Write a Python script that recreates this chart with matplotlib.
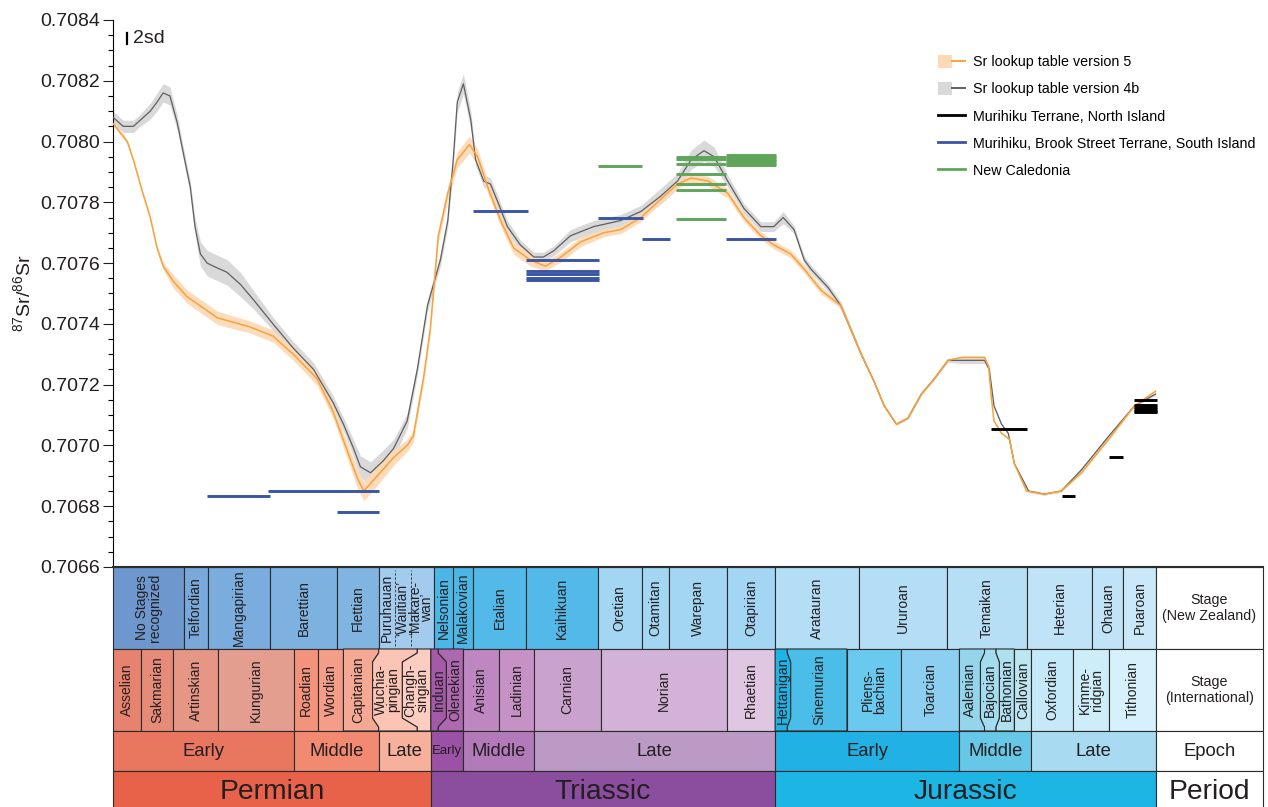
import matplotlib.pyplot as plt
import matplotlib.transforms as mtransforms
from matplotlib.lines import Line2D
from matplotlib.patches import Patch
from matplotlib.legend_handler import HandlerTuple
from matplotlib.ticker import MultipleLocator, FormatStrFormatter

plt.rcParams['font.family'] = ['Liberation Sans', 'DejaVu Sans']

# ---- Sr lookup table version 5 (age in Ma, 87Sr/86Sr, half band width x1e-6)
V5_AGE = [298.9, 296.8, 295.9, 294.5, 293.4, 292.4, 291.5, 290.0, 288.0, 283.5,
          278.7, 275.3, 272.3, 268.8, 266.4, 264.3, 262.8, 261.9, 259.9, 257.5,
          255.5, 254.6, 253.1, 252.1, 250.9, 249.5, 248.1, 246.3, 245.1, 243.6,
          241.7, 239.8, 237.3, 235.1, 232.8, 229.9, 226.5, 224.0, 221.0, 218.1,
          215.6, 213.6, 211.1, 208.2, 205.8, 203.3, 201.4, 198.9, 196.9, 194.4,
          191.5, 188.5, 186.6, 185.1, 183.3, 181.6, 179.6, 177.7, 175.7, 173.7,
          170.3, 169.7, 169.3, 168.9, 167.8, 166.6, 165.9, 164.1, 161.5, 159.0,
          156.0, 152.0, 148.2, 145.0]
V5_SR = [0.70806, 0.70800, 0.70794, 0.70783, 0.70775, 0.70765, 0.70759, 0.70754, 0.70749, 0.70742,
         0.70739, 0.70736, 0.70730, 0.70722, 0.70711, 0.70698, 0.70689, 0.70685, 0.70690, 0.70696,
         0.70700, 0.70703, 0.70722, 0.70738, 0.70769, 0.70783, 0.70794, 0.70799, 0.70795, 0.70785,
         0.70774, 0.70765, 0.70761, 0.70759, 0.70762, 0.70767, 0.70770, 0.70771, 0.70775, 0.70781,
         0.70786, 0.70788, 0.70787, 0.70783, 0.70775, 0.70769, 0.70766, 0.70763, 0.70758, 0.70751,
         0.70746, 0.70730, 0.70721, 0.70713, 0.70707, 0.70709, 0.70717, 0.70722, 0.70728, 0.70729,
         0.70729, 0.70726, 0.70716, 0.70708, 0.70704, 0.70702, 0.70694, 0.70685, 0.70684, 0.70685,
         0.70691, 0.70702, 0.70713, 0.70718]
V5_ERR = [7, 7, 7, 7, 7, 8, 12, 22, 22, 22,
          20, 20, 20, 22, 22, 26, 32, 32, 32, 26,
          20, 20, 18, 18, 20, 22, 26, 28, 26, 20,
          20, 20, 20, 16, 16, 16, 13, 13, 13, 13,
          13, 16, 16, 16, 13, 13, 13, 13, 13, 13,
          8, 5, 3, 3, 3, 3, 3, 3, 3, 3,
          3, 3, 3, 3, 3, 3, 3, 3, 3, 3,
          3, 3, 3, 3]

# ---- Sr lookup table version 4b
V4B_AGE = [298.9, 297.4, 295.9, 294.9, 293.4, 292.4, 291.5, 290.5, 289.4, 288.6,
           287.5, 286.8, 286.0, 285.0, 284.1, 282.1, 280.1, 278.2, 275.3, 272.3,
           269.3, 266.4, 264.9, 263.4, 262.4, 260.9, 259.0, 257.5, 255.5, 254.0,
           252.5, 250.6, 249.5, 248.7, 248.1, 247.2, 246.1, 245.4, 244.2, 243.2,
           242.1, 240.7, 238.8, 236.8, 235.4, 233.9, 231.4, 228.0, 224.0, 221.0,
           218.1, 215.6, 213.6, 211.7, 210.2, 208.2, 205.8, 203.3, 201.4, 200.0,
           198.4, 196.9, 195.9, 193.4, 191.5, 188.5, 186.6, 185.1, 183.3, 181.6,
           179.6, 177.7, 175.7, 173.7, 170.3, 169.6, 168.9, 167.8, 166.8, 165.9,
           163.8, 161.5, 159.0, 156.0, 152.0, 148.2, 145.0]
V4B_SR = [0.70808, 0.70805, 0.70805, 0.70807, 0.70810, 0.70813, 0.70816, 0.70815, 0.70806, 0.70797,
          0.70785, 0.70772, 0.70763, 0.70760, 0.70759, 0.70757, 0.70753, 0.70748, 0.70740, 0.70732,
          0.70725, 0.70714, 0.70707, 0.70699, 0.70693, 0.70691, 0.70695, 0.70699, 0.70708, 0.70725,
          0.70746, 0.70761, 0.70774, 0.70794, 0.70813, 0.70819, 0.70807, 0.70794, 0.70787, 0.70786,
          0.70780, 0.70772, 0.70766, 0.70762, 0.70762, 0.70764, 0.70769, 0.70772, 0.70774, 0.70777,
          0.70782, 0.70787, 0.70794, 0.70797, 0.70795, 0.70787, 0.70778, 0.70772, 0.70772, 0.70775,
          0.70771, 0.70761, 0.70758, 0.70752, 0.70746, 0.70730, 0.70721, 0.70713, 0.70707, 0.70709,
          0.70717, 0.70722, 0.70728, 0.70728, 0.70728, 0.70725, 0.70713, 0.70707, 0.70704, 0.70694,
          0.70685, 0.70684, 0.70685, 0.70692, 0.70703, 0.70713, 0.70717]
V4B_ERR = [20, 20, 20, 20, 26, 30, 30, 30, 24, 20,
           20, 30, 40, 42, 42, 42, 40, 30, 22, 22,
           22, 22, 22, 28, 36, 36, 36, 30, 25, 20,
           20, 20, 22, 28, 33, 33, 30, 20, 20, 20,
           20, 20, 16, 16, 16, 16, 20, 20, 20, 20,
           26, 26, 32, 35, 32, 20, 16, 16, 16, 20,
           13, 13, 13, 13, 13, 8, 4, 4, 4, 4,
           4, 4, 6, 10, 10, 8, 4, 4, 4, 4,
           4, 4, 4, 4, 4, 4, 4]

# ---- sample ranges (start age, end age, 87Sr/86Sr)
NORTH_START = [169.4, 158.8, 152.0, 148.2, 148.2, 148.2, 148.2, 148.2, 148.2]
NORTH_END = [164.1, 157.0, 149.8, 144.9, 144.9, 144.9, 144.9, 144.9, 144.9]
NORTH_SR = [0.707054, 0.706834, 0.706962, 0.707150, 0.707133, 0.707127, 0.707120, 0.707113, 0.707110]

SOUTH_START = [285.0, 276.0, 265.9, 245.8, 237.9, 237.9, 237.9, 237.9, 237.9, 227.4, 220.9, 208.5]
SOUTH_END = [275.7, 259.6, 259.6, 237.7, 227.2, 227.2, 227.2, 227.2, 227.2, 220.7, 216.7, 201.1]
SOUTH_SR = [0.706834, 0.706850, 0.706780, 0.707770, 0.707610, 0.707573, 0.707564, 0.707552, 0.707546,
            0.707750, 0.707680, 0.707680]

NC_START = [227.4, 215.9, 215.9, 215.9, 215.9, 215.9, 215.9, 215.9,
            208.5, 208.5, 208.5, 208.5, 208.5, 208.5]
NC_END = [220.9, 208.5, 208.5, 208.5, 208.5, 208.5, 208.5, 208.5,
          201.1, 201.1, 201.1, 201.1, 201.1, 201.1]
NC_SR = [0.707920, 0.707950, 0.707943, 0.707926, 0.707893, 0.707860, 0.707841, 0.707745,
         0.707956, 0.707950, 0.707943, 0.707936, 0.707930, 0.707923]

LEGEND_LABELS = ["Sr lookup table version 5", "Sr lookup table version 4b",
                 "Murihiku Terrane, North Island",
                 "Murihiku, Brook Street Terrane, South Island", "New Caledonia"]

# ---- time scale
NZ_STAGES = ["No Stages\nrecognized", "Telfordian", "Mangapirian", "Barettian", "Flettian",
             "Puruhauan", "Nelsonian", "Malakovian", "Etalian", "Kaihikuan",
             "Oretian", "Otamitan", "Warepan", "Otapirian", "Aratauran",
             "Ururoan", "Temaikan", "Heterian", "Ohauan", "Puaroan"]
NZ_BOUNDS = [298.9, 288.4, 284.9, 275.8, 265.8, 259.7, 251.5, 248.8, 245.8, 237.9, 227.4,
             220.9, 216.9, 208.3, 201.2, 188.8, 175.8, 164.1, 154.4, 149.8, 145.0]
NZ_COLORS = ['#6d97cd', '#79a9da', '#7aaddd', '#7db1df', '#80b5e2',
             '#a2cbee', '#4ab7e6', '#4ab7e6', '#52b9e8', '#52b9e8',
             '#a3d6f3', '#a3d6f3', '#a3d6f3', '#a3d6f3', '#b3def5',
             '#b3def5', '#b6dff5', '#c0e3f7', '#c0e3f7', '#cbe8f8']
PURUHAUAN_PARTS = ["Puruhauan", "\u2018Waiitian\u2019", "\u2018Makare-\nwan\u2019"]

INTL_STAGES = ["Asselian", "Sakmarian", "Artinskian", "Kungurian", "Roadian", "Wordian",
               "Capitanian", "Wuchia-\npingian", "Changh-\nsingian", "Induan", "Olenekian",
               "Anisian", "Ladinian", "Carnian", "Norian", "Rhaetian", "Hettanigan",
               "Sinemurian", "Pliens-\nbachian", "Toarcian", "Aalenian", "Bajocian",
               "Bathonian", "Callovian", "Oxfordian", "Kimme-\nridgian", "Tithonian"]
INTL_EDGE = [298.9, 294.8, 290.0, 283.4, 272.2, 268.6, 264.9, 259.7, 254.0, 252.0, 250.9,
             247.2, 241.9, 236.8, 226.9, 208.3, 201.2, 199.4, 190.6, 182.6, 174.0, 170.3,
             168.6, 165.9, 163.4, 157.2, 152.0, 145.0]
INTL_MID = [298.9, 294.8, 290.0, 283.4, 272.2, 268.6, 264.9, 260.6, 256.2, 252.0, 249.7,
            247.2, 241.9, 236.8, 226.9, 208.3, 201.2, 198.9, 190.6, 182.6, 174.0, 170.9,
            168.1, 165.9, 163.4, 157.2, 152.0, 145.0]
INTL_COLORS = ['#e6826e', '#e68b78', '#e59684', '#e39e8f', '#f4937c', '#f49d88', '#f5a994',
               '#fbc4b4', '#fccdc0', '#a45aa8', '#ad68b0', '#bf87c2', '#c692c6', '#c9a2cd',
               '#d2b2d7', '#dfc6e1', '#1fb4e6', '#4abde9', '#6ac9ee', '#8ccff0', '#94d5ec',
               '#a3dbef', '#aee0f0', '#bde6f2', '#c5e9f8', '#cdeef9', '#d6f1fb']

EPOCHS = ["Early", "Middle", "Late", "Early", "Middle", "Late", "Early", "Middle", "Late"]
EPOCH_BOUNDS = [298.9, 272.2, 259.7, 252.0, 247.2, 236.8, 201.2, 174.0, 163.4, 145.0]
EPOCH_COLORS = ['#e9775f', '#f28a72', '#f7b09c', '#9b51a4', '#b37ab9', '#bb9bc6',
                '#22b1e5', '#66c7e6', '#a8dbf2']

PERIODS = ["Permian", "Triassic", "Jurassic"]
PERIOD_BOUNDS = [298.9, 252.0, 201.2, 145.0]
PERIOD_COLORS = ['#e8624a', '#8b4d9e', '#1db6e4']

ROW_TITLES = ["Stage\n(New Zealand)", "Stage\n(International)", "Epoch", "Period"]

W, H = 1268, 807
TEXT = '#231f20'
EDGE = '#2b2b2b'
V5_LINE, V5_BAND = '#f7a23c', '#fdd9b5'
V4B_LINE, V4B_BAND = '#5f5f5f', '#d9d9d9'
NORTH_COLOR, SOUTH_COLOR, NC_COLOR = '#000000', '#3a55a4', '#5fa55a'
TWO_SD = 0.000036
STAGE_FS = 10

# table rows, in pixels from the figure bottom
ROWS = {'nz': (158, 240), 'intl': (76, 158), 'epoch': (36, 76), 'period': (-3, 36)}


def px_rect(x0, y0, x1, y1):
    return [x0 / W, 1 - y1 / H, (x1 - x0) / W, (y1 - y0) / H]


def boundary(edge, mid, y0, y1):
    # stage boundary from top to bottom, with a bracket where a stage is widened
    return [(edge, y1), (edge, y1 - 4), (mid, y1 - 13), (mid, y0 + 13), (edge, y0 + 4), (edge, y0)]


def cell(axis, left, right, y0, y1, color):
    axis.fill([left, right, right, left], [y0, y0, y1, y1], facecolor=color,
              edgecolor=EDGE, lw=0.8, clip_on=False)


def vlabel(axis, x, y, s, fs=STAGE_FS, ls=0.85):
    axis.text(x, y, s, rotation=90, ha='center', va='center', fontsize=fs,
              color=TEXT, linespacing=ls)


fig = plt.figure(figsize=(W / 100, H / 100), dpi=100)

# ---- main Sr curve panel
ax = fig.add_axes(px_rect(113, 20, 1156, 567))
ax.set_xlim(298.9, 145.0)
ax.set_ylim(0.7066, 0.7084)

lo = [s - e * 1e-6 for s, e in zip(V4B_SR, V4B_ERR)]
hi = [s + e * 1e-6 for s, e in zip(V4B_SR, V4B_ERR)]
ax.fill_between(V4B_AGE, lo, hi, color=V4B_BAND, lw=0, zorder=1)
lo = [s - e * 1e-6 for s, e in zip(V5_SR, V5_ERR)]
hi = [s + e * 1e-6 for s, e in zip(V5_SR, V5_ERR)]
ax.fill_between(V5_AGE, lo, hi, color=V5_BAND, alpha=0.9, lw=0, zorder=2)
ax.plot(V4B_AGE, V4B_SR, color=V4B_LINE, lw=0.9, zorder=3)
ax.plot(V5_AGE, V5_SR, color=V5_LINE, lw=1.1, zorder=4)

for starts, ends, vals, col in [(SOUTH_START, SOUTH_END, SOUTH_SR, SOUTH_COLOR),
                                (NC_START, NC_END, NC_SR, NC_COLOR),
                                (NORTH_START, NORTH_END, NORTH_SR, NORTH_COLOR)]:
    lc = ax.hlines(vals, starts, ends, colors=col, lw=2.1, zorder=5)
    lc.set_clip_on(False)

for side in ['top', 'right', 'bottom']:
    ax.spines[side].set_visible(False)
ax.spines['left'].set_linewidth(0.8)
ax.xaxis.set_visible(False)
ax.yaxis.set_major_locator(MultipleLocator(0.0002))
ax.yaxis.set_minor_locator(MultipleLocator(0.00005))
ax.yaxis.set_major_formatter(FormatStrFormatter('%.4f'))
ax.tick_params(axis='y', which='major', length=7.2, width=0.8, labelsize=14, pad=2, colors=TEXT)
ax.tick_params(axis='y', which='minor', length=3.6, width=0.8)
ax.set_ylabel(r'$\mathregular{^{87}}$Sr/$\mathregular{^{86}}$Sr', fontsize=14, color=TEXT)
ax.yaxis.set_label_coords(-0.076, 0.5)

# 2sd scale bar
trans = mtransforms.blended_transform_factory(ax.transAxes, ax.transData)
ax.plot([0.0134, 0.0134], [0.70834 - TWO_SD / 2, 0.70834 + TWO_SD / 2], transform=trans,
        color='k', lw=1.6)
ax.text(0.0192, 0.70834, "2sd", transform=trans, fontsize=14, va='center', color=TEXT)

handles = [
    (Patch(facecolor=V5_BAND, edgecolor='none'), Line2D([], [], color=V5_LINE, lw=1.4)),
    (Patch(facecolor=V4B_BAND, edgecolor='none'), Line2D([], [], color=V4B_LINE, lw=1.4)),
    Line2D([], [], color=NORTH_COLOR, lw=2),
    Line2D([], [], color=SOUTH_COLOR, lw=2),
    Line2D([], [], color=NC_COLOR, lw=2),
]
fig.legend(handles, LEGEND_LABELS, loc='upper left', bbox_to_anchor=(938 / W, 1 - 55 / H),
           frameon=False, fontsize=10.3, handlelength=1.9, handleheight=1.0,
           handletextpad=0.56, labelspacing=0.9, borderpad=0, borderaxespad=0,
           handler_map={tuple: HandlerTuple(ndivide=None, pad=0)})

# ---- time scale table
tax = fig.add_axes(px_rect(113, 567, 1156, 807))
tax.set_xlim(298.9, 145.0)
tax.set_ylim(0, 240)
tax.axis('off')

y0, y1 = ROWS['nz']
for name, l, r, c in zip(NZ_STAGES, NZ_BOUNDS[:-1], NZ_BOUNDS[1:], NZ_COLORS):
    cell(tax, l, r, y0, y1, c)
    if name == "Puruhauan":
        for part, f in zip(PURUHAUAN_PARTS, [0.15, 0.43, 0.76]):
            vlabel(tax, l + (r - l) * f, (y0 + y1) / 2, part, ls=0.75)
        for f in [0.30, 0.59]:
            tax.plot([l + (r - l) * f] * 2, [y0 + 3, y1 - 3], color=EDGE, lw=0.6,
                     ls=(0, (3, 2)))
    else:
        vlabel(tax, (l + r) / 2, (y0 + y1) / 2, name)

y0, y1 = ROWS['intl']
for i, name in enumerate(INTL_STAGES):
    left = boundary(INTL_EDGE[i], INTL_MID[i], y0, y1)
    right = boundary(INTL_EDGE[i + 1], INTL_MID[i + 1], y0, y1)[::-1]
    pts = left + right
    tax.fill([p[0] for p in pts], [p[1] for p in pts], facecolor=INTL_COLORS[i],
             edgecolor=EDGE, lw=0.8, clip_on=False)
    vlabel(tax, (INTL_MID[i] + INTL_MID[i + 1]) / 2, (y0 + y1) / 2, name)

y0, y1 = ROWS['epoch']
for name, l, r, c in zip(EPOCHS, EPOCH_BOUNDS[:-1], EPOCH_BOUNDS[1:], EPOCH_COLORS):
    cell(tax, l, r, y0, y1, c)
    fs = 9.5 if (l - r) < 6 else 13.3
    tax.text((l + r) / 2, (y0 + y1) / 2, name, ha='center', va='center', fontsize=fs,
             color=TEXT)

y0, y1 = ROWS['period']
for name, l, r, c in zip(PERIODS, PERIOD_BOUNDS[:-1], PERIOD_BOUNDS[1:], PERIOD_COLORS):
    cell(tax, l, r, y0, y1, c)
    tax.text((l + r) / 2, 15, name, ha='center', va='center', fontsize=20.3, color=TEXT)

tax.plot([298.9, 145.0], [240, 240], color=EDGE, lw=1.5, clip_on=False)

# ---- row titles column
lax = fig.add_axes(px_rect(1156, 567, 1263, 807))
lax.set_xlim(0, 1)
lax.set_ylim(0, 240)
lax.axis('off')
for title, key in zip(ROW_TITLES, ['nz', 'intl', 'epoch', 'period']):
    y0, y1 = ROWS[key]
    cell(lax, 0, 1, y0, y1, 'white')
    if key == 'period':
        lax.text(0.5, 15, title, ha='center', va='center', fontsize=20.3, color=TEXT)
    elif key == 'epoch':
        lax.text(0.5, (y0 + y1) / 2, title, ha='center', va='center', fontsize=13.3, color=TEXT)
    else:
        lax.text(0.5, (y0 + y1) / 2, title, ha='center', va='center', fontsize=10.3,
                 color=TEXT, linespacing=1.15)
lax.plot([0, 1], [240, 240], color=EDGE, lw=1.5, clip_on=False)

fig.savefig('out.png', dpi=100)
